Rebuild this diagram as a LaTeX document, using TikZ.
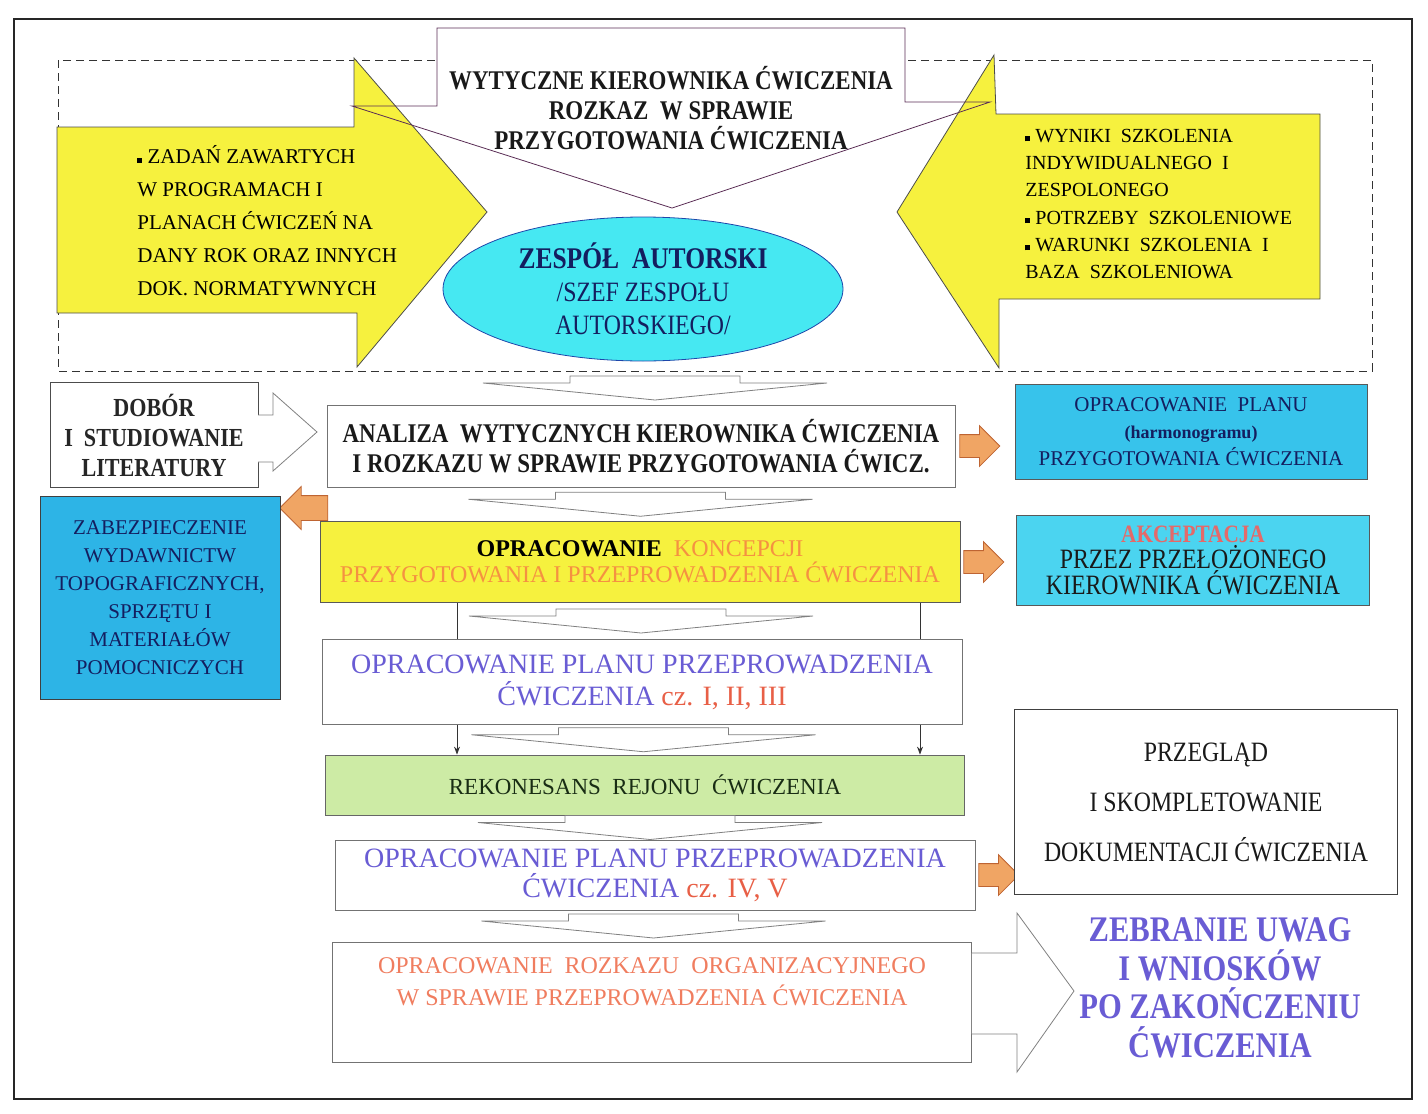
\documentclass[tikz,border=0pt]{standalone}
\usepackage{fontspec}
\setmainfont{Liberation Serif}
\newfontfamily\narrowserif{Liberation Serif}[FakeStretch=0.85]
\usetikzlibrary{positioning,calc,shapes.geometric,shapes.arrows,arrows.meta}

\definecolor{yellowfill}{RGB}{246,241,62}
\definecolor{ellipsefill}{RGB}{70,232,242}
\definecolor{ellipseedge}{RGB}{30,70,170}
\definecolor{planfill}{RGB}{55,195,235}
\definecolor{zabfill}{RGB}{45,180,230}
\definecolor{akcfill}{RGB}{75,212,240}
\definecolor{rekonfill}{RGB}{205,235,165}
\definecolor{arroworange}{RGB}{240,165,100}
\definecolor{arrowedge}{RGB}{190,100,50}
\definecolor{navytext}{RGB}{20,30,95}
\definecolor{purpletext}{RGB}{105,92,212}
\definecolor{orangetext}{RGB}{245,145,65}
\definecolor{salmontext}{RGB}{240,125,95}
\definecolor{redtext}{RGB}{232,95,70}
\definecolor{akctext}{RGB}{228,105,105}
\definecolor{topedge}{RGB}{90,45,85}
\definecolor{greentext}{RGB}{25,45,20}

\begin{document}
\begin{tikzpicture}[x=1pt, y=-1pt, line width=0.8pt,
        whitebox/.style={draw=black!55, fill=white, align=center, inner sep=0pt},
        colorbox/.style={draw=black!65, fill=#1, align=center, inner sep=0pt},
        orangearrow/.style={single arrow, draw=arrowedge, fill=arroworange, minimum height=40pt,
            inner xsep=2pt, inner ysep=11pt, single arrow head extend=9pt},
        thinarrow/.style={-{Stealth[length=8pt,width=6pt]}, black!80, line width=0.9pt},
        chevron/.pic={
            \filldraw[draw=black!50, fill=white] (-85,-12) -- (85,-12) -- (85,-5) -- (172,-5)
                -- (0,12) -- (-172,-5) -- (-85,-5) -- cycle;
        }]
    \useasboundingbox (0,0) rectangle (1428,1114);

    % frame
    \draw[line width=1.3pt, black!85] (14,19) rectangle (1412,1099);
    \draw[dashed, dash pattern=on 8pt off 5pt, line width=1pt, black!80] (58,60) rectangle (1372,371);

    % arrows at the top
    \path[fill=white] (437,28) -- (905,28) -- (905,102) -- (990,102) -- (672,208) -- (352,106) -- (437,106) -- cycle;
    \draw[draw=black!70, fill=yellowfill] (57,127) -- (354,127) -- (354,58) -- (487,212)
        -- (357,367) -- (357,313) -- (57,313) -- cycle;
    \draw[draw=black!70, fill=yellowfill] (1320,114) -- (996,114) -- (994,55) -- (897,212)
        -- (999,368) -- (999,299) -- (1320,299) -- cycle;
    \draw[topedge] (437,28) -- (905,28) -- (905,102) -- (990,102) -- (672,208) -- (352,106) -- (437,106) -- cycle;

    \node[align=center, font=\fontsize{27}{30}\selectfont\narrowserif\bfseries, text=black!90] (wytyczne)
        at (671,108) {WYTYCZNE KIEROWNIKA ĆWICZENIA\\ROZKAZ~ W SPRAWIE\\PRZYGOTOWANIA ĆWICZENIA};
    \node[anchor=west, align=left, inner sep=0pt, font=\fontsize{21}{33}\selectfont] (zadania) at (137,221)
        {\rule[1pt]{5pt}{5pt} ZADAŃ ZAWARTYCH\\W PROGRAMACH I\\PLANACH ĆWICZEŃ NA\\DANY ROK ORAZ INNYCH\\DOK. NORMATYWNYCH};
    \node[anchor=west, align=left, inner sep=0pt, font=\fontsize{20}{27.2}\selectfont] (wyniki) at (1025,204)
        {\rule[1pt]{5pt}{5pt} WYNIKI~ SZKOLENIA\\INDYWIDUALNEGO~ I\\ZESPOLONEGO\\\rule[1pt]{5pt}{5pt} POTRZEBY~ SZKOLENIOWE\\\rule[1pt]{5pt}{5pt} WARUNKI~ SZKOLENIA~ I\\BAZA~ SZKOLENIOWA};

    \node[ellipse, draw=ellipseedge, fill=ellipsefill, minimum width=400pt, minimum height=144pt,
        align=center, inner sep=0pt, text=navytext, font=\fontsize{28}{33}\selectfont\narrowserif] (zespol) at (643,289)
        {{\fontsize{30}{33}\selectfont\bfseries ZESPÓŁ~ AUTORSKI}\\/SZEF ZESPOŁU\\AUTORSKIEGO/};

    % main column
    \pic at (655,388) {chevron};
    \node[colorbox=white, draw=black!70, minimum width=208pt, minimum height=105pt, text=black!85,
        font=\fontsize{26}{30}\selectfont\narrowserif\bfseries] (dobor) at (154,435) {DOBÓR\\I~ STUDIOWANIE\\LITERATURY};
    \filldraw[draw=black!50, fill=white] (258,415) -- (273,415) -- (273,393) -- (317,432)
        -- (273,471) -- (273,462) -- (258,462);

    \node[whitebox, minimum width=628pt, minimum height=82pt, text=black!90,
        font=\fontsize{27}{30}\selectfont\narrowserif\bfseries] (analiza) at (641,446)
        {ANALIZA~ WYTYCZNYCH KIEROWNIKA ĆWICZENIA\\I ROZKAZU W SPRAWIE PRZYGOTOWANIA ĆWICZ.};
    \node[colorbox=planfill, minimum width=352pt, minimum height=95pt, text=navytext,
        font=\fontsize{21}{27}\selectfont] (harmonogram) at (1191,432)
        {OPRACOWANIE~ PLANU\\{\fontsize{18}{27}\selectfont\bfseries (harmonogramu)}\\PRZYGOTOWANIA ĆWICZENIA};
    \node[orangearrow, right=4pt of analiza] (toharm) {};

    \node[orangearrow, shape border rotate=180, minimum height=48pt, inner ysep=12pt] (tozab) at (310,508) {};
    \node[colorbox=zabfill, draw=black!75, minimum width=240pt, minimum height=203pt, text=navytext,
        font=\fontsize{21}{28}\selectfont] (zabezp) at (160,598)
        {ZABEZPIECZENIE\\WYDAWNICTW\\TOPOGRAFICZNYCH,\\SPRZĘTU I\\MATERIAŁÓW\\POMOCNICZYCH};

    \node[colorbox=yellowfill, minimum width=640pt, minimum height=81pt,
        font=\fontsize{24}{26}\selectfont] (koncepcja) at (640,562)
        {\textbf{OPRACOWANIE}~ \textcolor{orangetext}{KONCEPCJI}\\\textcolor{orangetext}{PRZYGOTOWANIA I PRZEPROWADZENIA ĆWICZENIA}};
    \pic at ($(analiza.south)!.5!(koncepcja.north)$) {chevron};
    \node[colorbox=akcfill, minimum width=353pt, minimum height=90pt, text=black!90,
        font=\fontsize{28}{26}\selectfont\narrowserif] (akceptacja) at (1193,560)
        {{\fontsize{25}{26}\selectfont\bfseries\color{akctext}AKCEPTACJA}\\PRZEZ PRZEŁOŻONEGO\\KIEROWNIKA ĆWICZENIA};
    \node[orangearrow, right=3pt of koncepcja] (toakc) {};

    \node[colorbox=rekonfill, draw=black!60, minimum width=639pt, minimum height=60pt, text=greentext,
        font=\fontsize{23}{26}\selectfont] (rekon) at (645,785) {REKONESANS~ REJONU~ ĆWICZENIA};
    \coordinate (vl) at ($(koncepcja.south)+(-183,0)$);
    \coordinate (vr) at ($(koncepcja.south)+(280,0)$);
    \draw[thinarrow] (vl) -- (vl |- rekon.north);
    \draw[thinarrow] (vr) -- (vr |- rekon.north);

    \node[whitebox, minimum width=640pt, minimum height=85pt, text=purpletext,
        font=\fontsize{28}{32}\selectfont] (plan13) at (642,682)
        {OPRACOWANIE PLANU PRZEPROWADZENIA\\ĆWICZENIA \textcolor{redtext}{cz. I, II, III}};
    \pic at ($(koncepcja.south)!.5!(plan13.north)$) {chevron};
    \pic at ($(plan13.south)!.5!(rekon.north)$) {chevron};

    \node[whitebox, minimum width=640pt, minimum height=70pt, text=purpletext,
        font=\fontsize{28}{30}\selectfont] (plan45) at (655,875)
        {OPRACOWANIE PLANU PRZEPROWADZENIA\\ĆWICZENIA \textcolor{redtext}{cz. IV, V}};
    \pic at ($(rekon.south)!.5!(plan45.north)$) {chevron};
    \node[orangearrow, right=3pt of plan45] (toprzeglad) {};
    \node[whitebox, draw=black!75, minimum width=383pt, minimum height=185pt, text=black!90,
        font=\fontsize{28}{50}\selectfont\narrowserif] (przeglad) at (1206,802)
        {PRZEGLĄD\\I SKOMPLETOWANIE\\DOKUMENTACJI ĆWICZENIA};

    \node[whitebox, minimum width=639pt, minimum height=120pt] (rozkaz) at (652,1002) {};
    \pic at ($(plan45.south)!.5!(rozkaz.north)$) {chevron};
    \node[align=center, text=salmontext, font=\fontsize{24}{32}\selectfont] (rozkaztext)
        at ($(rozkaz.center)+(0,-20)$) {OPRACOWANIE~ ROZKAZU~ ORGANIZACYJNEGO\\W SPRAWIE PRZEPROWADZENIA ĆWICZENIA};

    \filldraw[draw=black!50, fill=white] (rozkaz.east |- 0,953) -- (1017,953) -- (1017,913) -- (1074,991)
        -- (1017,1072) -- (1017,1034) -- (rozkaz.east |- 0,1034);
    \node[align=center, text=purpletext, font=\fontsize{36}{38.5}\selectfont\narrowserif\bfseries] (zebranie)
        at (1220,988) {ZEBRANIE UWAG\\I WNIOSKÓW\\PO ZAKOŃCZENIU\\ĆWICZENIA};
\end{tikzpicture}
\end{document}
